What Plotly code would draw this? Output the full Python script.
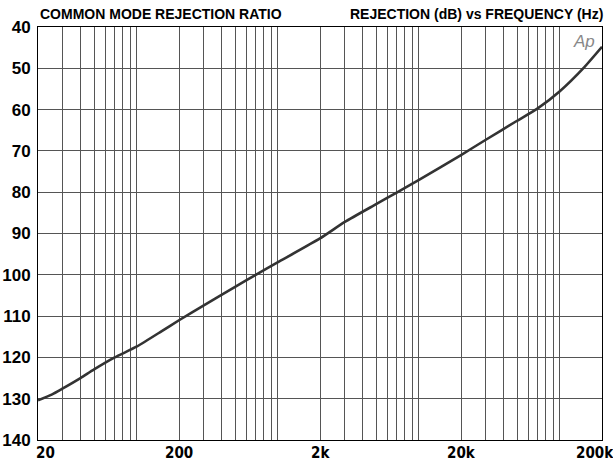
import math
import plotly.graph_objects as go

# ---- data ----
freq_hz = [20, 25, 30, 40, 50, 70, 100, 150, 200, 300, 500, 700, 1000, 2000,
           3000, 5000, 7000, 10000, 20000, 30000, 50000, 70000, 100000, 150000, 200000]
rejection_db = [130.4, 129.0, 127.5, 125.0, 122.9, 120.0, 117.4, 113.7, 111.0, 107.4,
                102.9, 100.0, 97.0, 91.2, 87.2, 82.9, 80.1, 77.1, 71.0, 67.3, 62.7,
                59.7, 55.6, 49.7, 44.8]

x_tick_vals = [20, 200, 2000, 20000, 200000]
x_tick_text = ["20", "200", "2k", "20k", "200k"]
y_tick_vals = [40, 50, 60, 70, 80, 90, 100, 110, 120, 130, 140]

title_left = "COMMON MODE REJECTION RATIO"
title_right = "REJECTION (dB) vs FREQUENCY (Hz)"
logo_text = "Ap"

# grid frequencies (1..9 x decade, 20 Hz .. 200 kHz)
grid_freqs = [m * 10 ** e for e in range(1, 6) for m in range(1, 10)
              if 20 <= m * 10 ** e <= 200000]

NARROW = "Liberation Sans Narrow, DejaVu Sans Condensed, Arial Narrow, sans-serif"
SANS = "Liberation Sans, Arial, sans-serif"

fig = go.Figure()
fig.add_trace(go.Scatter(
    x=freq_hz, y=rejection_db, mode="lines",
    line=dict(color="#333333", width=2.6, shape="spline", smoothing=0.6),
    hoverinfo="skip", showlegend=False,
))

fig.update_layout(
    width=613, height=466,
    margin=dict(l=38, r=11, t=27, b=26, autoexpand=False),
    paper_bgcolor="white", plot_bgcolor="white",
    xaxis=dict(
        type="log", range=[math.log10(20), math.log10(200000)],
        tickvals=grid_freqs, showticklabels=False, ticks="",
        showgrid=True, gridcolor="#555555", gridwidth=1,
        showline=True, linecolor="black", linewidth=1, mirror=True,
        zeroline=False, automargin=False,
    ),
    yaxis=dict(
        range=[140, 40], tickvals=y_tick_vals, ticks="",
        showgrid=True, gridcolor="#555555", gridwidth=1,
        showline=True, linecolor="black", linewidth=1, mirror=True,
        zeroline=False, ticklabelstandoff=3, automargin=False,
        tickfont=dict(family=SANS, size=17, color="black", weight="bold"),
    ),
)

annotations = []
for i, (v, t) in enumerate(zip(x_tick_vals, x_tick_text)):
    shift = 0
    if i == 0:
        shift = 7
    elif i == len(x_tick_vals) - 1:
        shift = -7
    annotations.append(dict(
        x=math.log10(v), y=0, xref="x", yref="paper",
        text=t, showarrow=False, xanchor="center", yanchor="top",
        xshift=shift, yshift=-2,
        font=dict(family=NARROW, size=15, color="black", weight="bold"),
    ))

annotations.append(dict(
    x=0, y=1, xref="paper", yref="paper", text=title_left, showarrow=False,
    xanchor="left", yanchor="bottom", xshift=0, yshift=3,
    font=dict(family=SANS, size=14, color="black", weight="bold"),
))
annotations.append(dict(
    x=1, y=1, xref="paper", yref="paper", text=title_right, showarrow=False,
    xanchor="right", yanchor="bottom", xshift=3, yshift=3,
    font=dict(family=SANS, size=14, color="black", weight="bold"),
))
annotations.append(dict(
    x=1, y=1, xref="paper", yref="paper", text="<i>" + logo_text + "</i>",
    showarrow=False, xanchor="right", yanchor="top", xshift=-5, yshift=-3,
    font=dict(family=SANS, size=17, color="#888888"),
))
fig.update_layout(annotations=annotations)

fig.write_html(
    "out.html",
    config={"displayModeBar": False},
    post_script="document.body.style.margin='0';document.body.style.overflow='hidden';",
)
